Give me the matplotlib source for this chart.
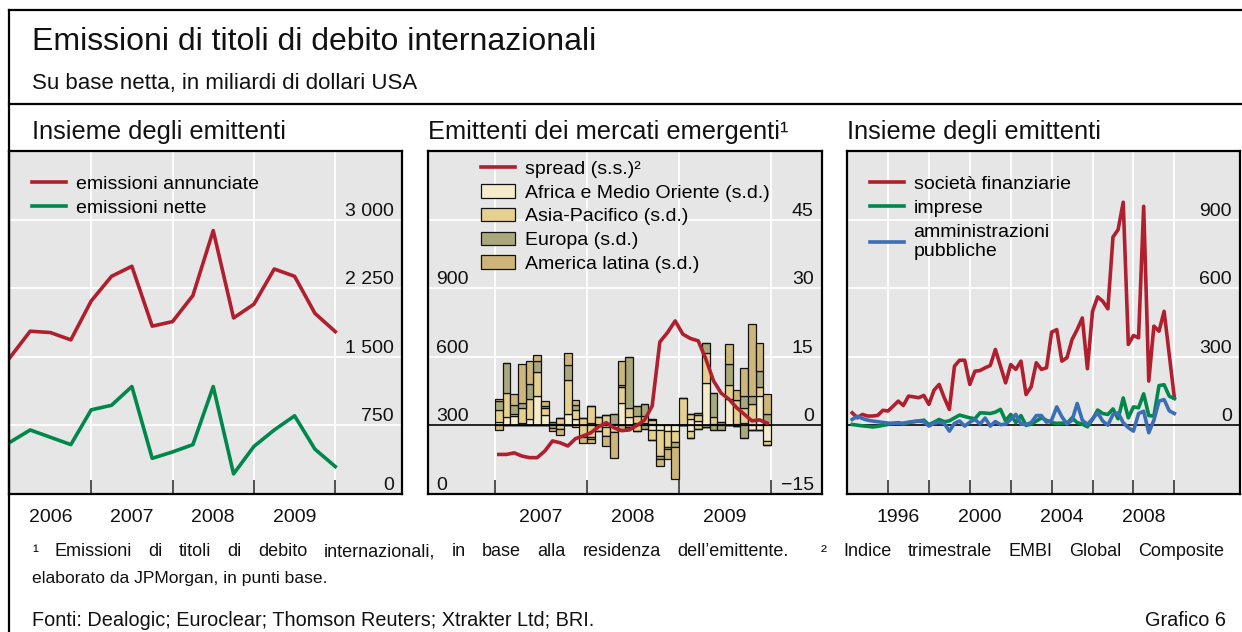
import numpy as np
import matplotlib.pyplot as plt
from matplotlib.patches import Patch
from matplotlib.lines import Line2D

plt.rcParams['font.family'] = ['Liberation Sans', 'DejaVu Sans']

# %% Data
# left panel: quarterly, all issuers
q_left = np.arange(2006.0, 2010.01, 0.25)
annunciate = [1490, 1780, 1765, 1685, 2110, 2380, 2490, 1835, 1885, 2170, 2880,
              1925, 2075, 2460, 2380, 1975, 1775]
nette = [565, 700, 620, 540, 920, 970, 1175, 390, 460, 540, 1175, 220, 520, 700,
         855, 490, 300]

# middle panel: monthly, emerging markets
months = 2007 + (np.arange(36) + 0.5) / 12
spread = [173, 173, 180, 166, 159, 159, 188, 232, 224, 210, 242, 254,
          268, 294, 312, 290, 277, 280, 300, 323, 385, 665, 706, 757,
          699, 680, 670, 590, 495, 441, 415, 378, 349, 320, 324, 310]
africa_pos = [0.7, 1.9, 2.0, 0.6, 1.5, 6.5, 2.2, 0.2, 0.4, 2.6, 1.5, 0,
              0.5, 0, 0.3, 0.2, 5.0, 1.9, 0.5, 0.5, 0.4, 0, 0, 0,
              0, 1.3, 1.0, 9.3, 0.3, 0, 5.7, 0.2, 0.5, 0, 6.4, 0]
asia_pos = [2.6, 5.1, 0.4, 3.1, 4.2, 5.2, 1.7, 0.2, 1.3, 7.4, 1.8, 1.7,
            3.7, 1.9, 1.9, 0, 3.5, 1.9, 1.5, 1.5, 0.8, 0, 0, 0,
            5.9, 1.1, 1.3, 6.6, 1.6, 0, 3.1, 5.3, 3.2, 4.6, 2.0, 0]
europa_pos = [2.0, 6.7, 2.0, 1.3, 3.3, 2.3, 0.4, 0.3, 0, 3.1, 1.2, 0,
              0, 0, 0, 2.2, 0.3, 11.2, 2.2, 2.7, 0.3, 0, 0, 0,
              0, 0, 0.5, 2.2, 5.2, 0.7, 4.6, 0, 2.7, 1.8, 3.4, 2.4]
latina_pos = [0.4, 0, 2.4, 8.5, 5.0, 1.3, 1.0, 0, 0, 2.8, 1.0, 0,
              0, 0, 0, 0, 5.3, 0, 0, 0, 0, 0, 0, 0,
              0, 0, 0, 0, 0, 0, 4.3, 2.2, 6.2, 15.7, 6.2, 4.4]
africa_neg = [0, 0, 0, 0, 0, 0, 0, 0, 0, 0, 0, 0,
              0, -0.2, -0.3, 0, 0, -0.3, 0, 0, -1.0, -1.0, -1.2, -1.2,
              0, -1.2, 0, -0.3, 0, 0, 0, -0.2, 0, -0.9, -0.9, -3.5]
asia_neg = [0, 0, 0, 0, 0, 0, 0, 0, -0.8, 0, 0, -2.5,
            -2.5, -1.0, -2.0, -1.5, 0, 0, -1.2, 0, -2.1, -5.8, -3.5, -2.5,
            0, -1.5, -0.7, 0, 0, 0, 0, 0, 0, 0, 0, -0.7]
europa_neg = [0, 0, 0, 0, 0, 0, 0, -0.5, 0, 0, 0, 0,
              -0.5, 0, 0, 0, 0, 0, 0, -0.7, 0, -0.5, -0.5, -1.1,
              0, 0, 0, 0, -0.9, -1.0, 0, 0, -2.7, 0, 0, 0]
latina_neg = [-1.1, 0, 0, 0, 0, 0, 0, -0.7, -1.2, 0, -0.4, -1.3,
              -0.9, 0, -2.2, -5.6, -1.0, 0, 0, 0, 0, -1.6, -2.1, -7.0,
              0, 0, 0, 0, 0, 0, 0, 0, 0, 0, 0, 0]

# right panel: quarterly, by sector
q_right = 1994.25 + 0.25 * np.arange(64)
finanziarie = [55, 33, 48, 41, 41, 44, 66, 63, 84, 106, 87, 128, 125, 121, 131, 92,
               154, 179, 121, 70, 259, 285, 285, 179, 237, 240, 252, 262, 332, 259, 186, 266,
               245, 281, 135, 169, 274, 245, 252, 408, 419, 281, 296, 376, 419, 470, 248, 499,
               562, 543, 510, 824, 856, 976, 354, 393, 383, 958, 194, 434, 412, 499, 310, 121]
imprese = [4, 1, -2, -4, -7, -4, 0, 4, 9, 12, 6, 12, 16, 19, 23, 3,
           14, 26, 16, 20, 33, 45, 39, 33, 29, 55, 54, 52, 58, 70, 20, 48,
           12, 43, 0, 6, 19, 33, 22, 12, 9, 10, 9, 33, 12, 6, -6, 26,
           67, 52, 48, 72, 29, 120, 33, 81, 77, 138, 43, 41, 174, 178, 128, 117]
pubbliche = [26, 40, 30, 23, 19, 16, 13, 10, 9, 9, 10, 14, 17, 19, 16, -3,
             9, 14, 9, -25, 9, 19, -3, 14, 26, 6, 32, -3, 17, 3, 6, 26,
             48, 6, 4, 12, 43, 43, 14, 23, 81, 38, 6, 23, 96, 23, 4, 29,
             55, 19, 1, 48, 55, 12, -10, -25, 52, 62, -32, 23, 106, 113, 64, 52]

# %% Styles
W, H = 1242, 632
RED, GREEN, BLUE = '#B01F2E', '#00874B', '#3B6EB6'
C_AF, C_AS, C_EU, C_LA = '#F5ECCB', '#E6D090', '#A8A87C', '#CEB57A'
BG = '#E6E6E6'
TXT = '#111111'
FS = 14

fig = plt.figure(figsize=(W / 100, H / 100), dpi=100)


def px_axes(x0, y0, x1, y1):
    return fig.add_axes([x0 / W, 1 - y1 / H, (x1 - x0) / W, (y1 - y0) / H])


def style(ax, xlim, ylim, bounds, labelpos, labels, yticks, ylabels):
    ax.set_facecolor(BG)
    ax.set_xlim(*xlim)
    ax.set_ylim(*ylim)
    for s in ax.spines.values():
        s.set_linewidth(1.6)
        s.set_color('black')
    ax.set_xticks(bounds)
    ax.set_xticklabels([])
    ax.set_xticks(labelpos, minor=True)
    ax.set_xticklabels(labels, minor=True)
    ax.tick_params(axis='x', which='major', direction='in', length=10, width=1.1, color='#222')
    ax.tick_params(axis='x', which='minor', length=0, pad=11, labelsize=FS, labelcolor=TXT)
    ax.set_yticks(yticks)
    ax.set_yticklabels(ylabels)
    ax.tick_params(axis='y', length=0, labelright=True, labelleft=False, pad=-6, labelsize=FS,
                   labelcolor=TXT)
    plt.setp(ax.get_yticklabels(), ha='right', va='bottom')
    ax.grid(True, which='major', color='white', lw=1.3)
    ax.set_axisbelow(True)


leg_kw = dict(loc='upper left', frameon=False, fontsize=FS, handlelength=1.75,
              handletextpad=0.5, borderpad=0, borderaxespad=0)

# %% Left panel
ax1 = px_axes(9, 151, 402, 494)
style(ax1, (2005.99, 2010.82), (0, 3750), [2007, 2008, 2009, 2010],
      [2006.5, 2007.5, 2008.5, 2009.5], ['2006', '2007', '2008', '2009'],
      [0, 750, 1500, 2250, 3000], ['0', '750', '1 500', '2 250', '3 000'])
ax1.plot(q_left, annunciate, color=RED, lw=2.6, label='emissioni annunciate')
ax1.plot(q_left, nette, color=GREEN, lw=2.6, label='emissioni nette')
ax1.legend(bbox_to_anchor=(0.058, 0.93), labelspacing=0.35, **leg_kw)

# %% Middle panel
ax2 = px_axes(428, 151, 822, 494)
ax2b = ax2.twinx()
style(ax2, (2006.272, 2010.554), (-15, 60), [2007, 2008, 2009, 2010],
      [2007.5, 2008.5, 2009.5], ['2007', '2008', '2009'],
      [-15, 0, 15, 30, 45], ['\u221215', '0', '15', '30', '45'])
bw = 1 / 12
kw = dict(width=bw, edgecolor='#111', linewidth=0.9)
bottom = np.zeros(36)
for vals, col in [(africa_pos, C_AF), (asia_pos, C_AS), (europa_pos, C_EU), (latina_pos, C_LA)]:
    v = np.array(vals)
    ax2.bar(months, v, bottom=bottom, color=col, **kw)
    bottom = bottom + v
bottom = np.zeros(36)
for vals, col in [(africa_neg, C_AF), (asia_neg, C_AS), (europa_neg, C_EU), (latina_neg, C_LA)]:
    v = np.array(vals)
    ax2.bar(months, v, bottom=bottom, color=col, **kw)
    bottom = bottom + v
ax2.axhline(0, color='black', lw=1.2)

ax2b.set_ylim(0, 1500)
ax2b.set_yticks([0, 300, 600, 900])
ax2b.set_yticklabels(['0', '300', '600', '900'])
ax2b.yaxis.set_ticks_position('left')
ax2b.tick_params(axis='y', length=0, labelleft=True, labelright=False, pad=-6, labelsize=FS,
                 labelcolor=TXT)
plt.setp(ax2b.get_yticklabels(), ha='left', va='bottom')
for s in ax2b.spines.values():
    s.set_visible(False)
ax2b.plot(months, spread, color=RED, lw=2.6)
handles = [Line2D([], [], color=RED, lw=2.6),
           Patch(facecolor=C_AF, edgecolor='#111', lw=0.9),
           Patch(facecolor=C_AS, edgecolor='#111', lw=0.9),
           Patch(facecolor=C_EU, edgecolor='#111', lw=0.9),
           Patch(facecolor=C_LA, edgecolor='#111', lw=0.9)]
labels = ['spread (s.s.)\u00b2', 'Africa e Medio Oriente (s.d.)', 'Asia-Pacifico (s.d.)',
          'Europa (s.d.)', 'America latina (s.d.)']
ax2b.legend(handles, labels, bbox_to_anchor=(0.135, 0.972), labelspacing=0.31, **leg_kw)

# %% Right panel
ax3 = px_axes(847, 151, 1240, 494)
style(ax3, (1993.995, 2013.21), (-300, 1200), np.arange(1996, 2011, 2),
      [1996.5, 2000.5, 2004.5, 2008.5], ['1996', '2000', '2004', '2008'],
      [-300, 0, 300, 600, 900], ['', '0', '300', '600', '900'])
ax3.axhline(0, color='black', lw=1.2)
ax3.plot(q_right, finanziarie, color=RED, lw=2.6, label='società finanziarie')
ax3.plot(q_right, imprese, color=GREEN, lw=2.6, label='imprese')
ax3.plot(q_right, pubbliche, color=BLUE, lw=2.6, label='amministrazioni\npubbliche')
ax3.legend(bbox_to_anchor=(0.058, 0.93), labelspacing=0.35, **leg_kw)

# %% Texts and frame
fig.add_artist(Line2D([9 / W, 9 / W], [0, 1 - 10 / H], color='black', lw=1.6))
fig.add_artist(Line2D([9 / W, 1], [1 - 10 / H, 1 - 10 / H], color='black', lw=1.6))
fig.add_artist(Line2D([9 / W, 1], [1 - 104 / H, 1 - 104 / H], color='black', lw=1.6))

fig.text(32 / W, 1 - 42 / H, 'Emissioni di titoli di debito internazionali', fontsize=23,
         va='center', color=TXT)
fig.text(32 / W, 1 - 83 / H, 'Su base netta, in miliardi di dollari USA', fontsize=16,
         va='center', color=TXT)
for xp, title in [(32, 'Insieme degli emittenti'), (428, 'Emittenti dei mercati emergenti\u00b9'),
                  (847, 'Insieme degli emittenti')]:
    fig.text(xp / W, 1 - 132 / H, title, fontsize=18.3, va='center', color=TXT)

# justified first footnote line
tokens = ['\u00b9', 'Emissioni', 'di', 'titoli', 'di', 'debito', 'internazionali,', 'in', 'base',
          'alla', 'residenza', 'dell\u2019emittente.', '', '\u00b2', 'Indice', 'trimestrale',
          'EMBI', 'Global', 'Composite']
fig.canvas.draw()
renderer = fig.canvas.get_renderer()
objs = [fig.text(0, 1 - 552 / H, t, fontsize=13, va='center', color=TXT) for t in tokens]
widths = [o.get_window_extent(renderer).width if o.get_text() else 0 for o in objs]
x0, x1 = 32, 1224
gap = (x1 - x0 - sum(widths)) / (len(tokens) - 1)
x = x0
for o, w in zip(objs, widths):
    o.set_x(x / W)
    x += w + gap

fig.text(32 / W, 1 - 578 / H, 'elaborato da JPMorgan, in punti base.', fontsize=12.6,
         va='center', color=TXT)
fig.text(32 / W, 1 - 620 / H, 'Fonti: Dealogic; Euroclear; Thomson Reuters; Xtrakter Ltd; BRI.',
         fontsize=14.3, va='center', color=TXT)
fig.text(1226 / W, 1 - 620 / H, 'Grafico 6', fontsize=14.3, va='center', ha='right', color=TXT)

fig.savefig('out.png', dpi=100)
